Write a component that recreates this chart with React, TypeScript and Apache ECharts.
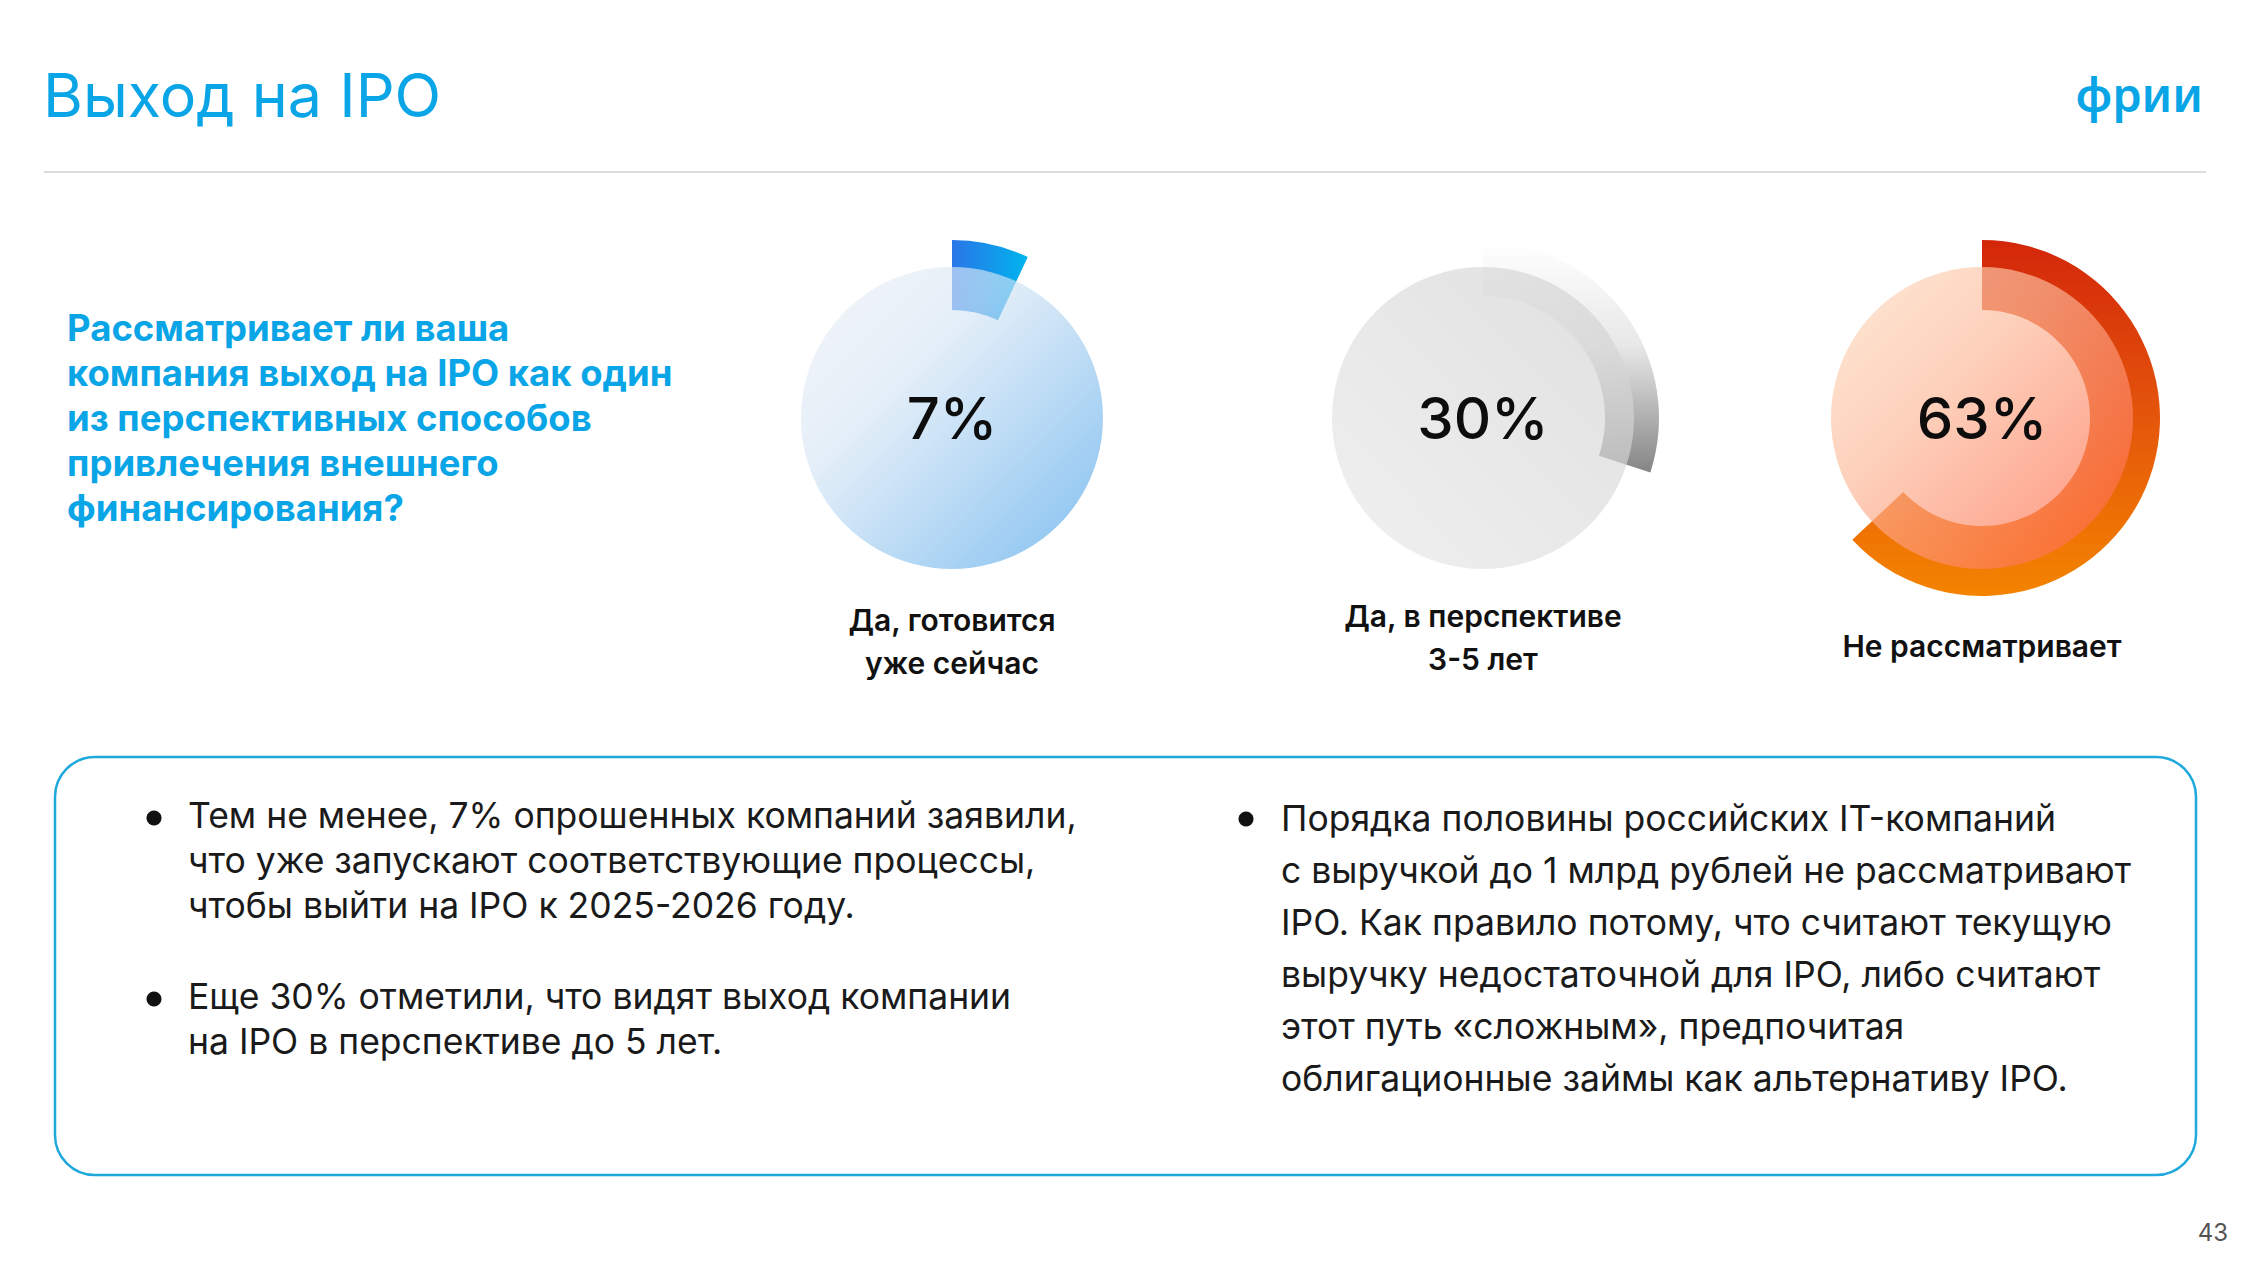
import React, { useEffect, useRef } from "react";
import * as echarts from "echarts";

// ---- data ----
const categories = ["Да, готовится\nуже сейчас", "Да, в перспективе\n3-5 лет", "Не рассматривает"];
const shares = [7, 30, 63];
const titleText = "Выход на IPO";
const logoText = "фрии";
const pageNumber = "43";
const questionLines = [
  "Рассматривает ли ваша",
  "компания выход на IPO как один",
  "из перспективных способов",
  "привлечения внешнего",
  "финансирования?",
];
const leftBullets = [
  ["Тем не менее, 7% опрошенных компаний заявили,", "что уже запускают соответствующие процессы,", "чтобы выйти на IPO к 2025-2026 году."],
  ["Еще 30% отметили, что видят выход компании", "на IPO в перспективе до 5 лет."],
];
const rightBullets = [
  [
    "Порядка половины российских IT-компаний",
    "с выручкой до 1 млрд рублей не рассматривают",
    "IPO. Как правило потому, что считают текущую",
    "выручку недостаточной для IPO, либо считают",
    "этот путь «сложным», предпочитая",
    "облигационные займы как альтернативу IPO.",
  ],
];

// ---- layout & style ----
const centersX = [952, 1483, 1982];
const centerY = 418;
const circleR = 151;
const arcInner = [108, 122, 108];
const arcOuter = [178, 176, 178];
const labelTops = [598, 594, 624];
const FONT = "Inter, 'Noto Sans', sans-serif";
const BLUE = "#0aa5e6";

const lin = (x: number, y: number, x2: number, y2: number, stops: [number, string][]) => ({
  type: "linear",
  x,
  y,
  x2,
  y2,
  colorStops: stops.map(([offset, color]) => ({ offset, color })),
});

const arcColors = [
  lin(0, 0, 1, 0, [[0, "#2a76e8"], [1, "#00b4ee"]]),
  lin(0, 0, 0, 1, [[0, "#ffffff"], [0.45, "#e8e8e8"], [1, "#858585"]]),
  lin(0, 0, 0, 1, [[0, "#d3260a"], [0.5, "#e4560b"], [1, "#f48400"]]),
];
const circleColors = [
  lin(0, 0, 1, 1, [[0, "rgba(238,241,245,0.65)"], [0.35, "rgba(214,230,245,0.65)"], [1, "rgba(63,157,232,0.65)"]]),
  lin(1, 0, 0, 1, [[0, "rgba(207,207,207,0.65)"], [1, "rgba(232,232,232,0.65)"]]),
  lin(0, 0, 1, 1, [[0, "rgba(253,224,196,0.68)"], [0.4, "rgba(252,185,154,0.68)"], [1, "rgba(255,90,56,0.68)"]]),
];

export default function App() {
  const ref = useRef<HTMLDivElement>(null);
  useEffect(() => {
    if (!ref.current) return;
    const chart = echarts.init(ref.current, undefined, { renderer: "svg" });

    const series: any[] = [];
    shares.forEach((v, i) => {
      series.push({
        type: "pie",
        z: 1,
        silent: true,
        center: [centersX[i], centerY],
        radius: [arcInner[i], arcOuter[i]],
        startAngle: 90,
        clockwise: true,
        avoidLabelOverlap: false,
        label: { show: false },
        labelLine: { show: false },
        emphasis: { disabled: true },
        data: [
          { value: v, name: categories[i], itemStyle: { color: arcColors[i] } },
          { value: 100 - v, name: "rest", itemStyle: { color: "rgba(0,0,0,0)" } },
        ],
      });
      series.push({
        type: "pie",
        z: 2,
        silent: true,
        center: [centersX[i], centerY],
        radius: [0, circleR],
        avoidLabelOverlap: false,
        emphasis: { disabled: true },
        labelLine: { show: false },
        label: {
          show: true,
          position: "center",
          formatter: "{c}%",
          fontSize: 58,
          fontWeight: 500,
          fontFamily: FONT,
          color: "#0d0d0d",
          opacity: 1,
        },
        data: [{ value: v, name: categories[i], itemStyle: { color: circleColors[i] } }],
      });
    });

    const elements: any[] = [
      {
        type: "text",
        x: 43,
        y: 95,
        style: { text: titleText, fill: BLUE, fontSize: 61, fontFamily: FONT, fontWeight: 400, textVerticalAlign: "middle" },
      },
      {
        type: "text",
        x: 2203,
        y: 94,
        style: { text: logoText, fill: BLUE, fontSize: 47, fontFamily: "'Noto Sans', sans-serif", fontWeight: 600, textAlign: "right", textVerticalAlign: "middle" },
      },
      {
        type: "line",
        shape: { x1: 44, y1: 172, x2: 2206, y2: 172 },
        style: { stroke: "#dcdcdc", lineWidth: 2 },
      },
      {
        type: "text",
        x: 67,
        y: 305,
        style: {
          text: questionLines.join("\n"),
          fill: BLUE,
          fontSize: 36.5,
          lineHeight: 45,
          fontFamily: FONT,
          fontWeight: 700,
          textVerticalAlign: "top",
        },
      },
      {
        type: "rect",
        shape: { x: 55, y: 757, width: 2141, height: 418, r: 40 },
        style: { fill: "none", stroke: "#1ea8dc", lineWidth: 2.5 },
      },
      {
        type: "text",
        x: 2228,
        y: 1232,
        style: { text: pageNumber, fill: "#555555", fontSize: 24, fontFamily: FONT, textAlign: "right", textVerticalAlign: "middle" },
      },
    ];

    categories.forEach((c, i) => {
      elements.push({
        type: "text",
        x: centersX[i],
        y: labelTops[i],
        style: {
          text: c,
          fill: "#111111",
          fontSize: 30,
          lineHeight: 43,
          fontWeight: 600,
          fontFamily: FONT,
          textAlign: "center",
          textVerticalAlign: "top",
        },
      });
    });

    const leftTops = [793, 974];
    leftBullets.forEach((lines, i) => {
      elements.push({ type: "circle", shape: { cx: 154, cy: leftTops[i] + 25, r: 7.5 }, style: { fill: "#111111" } });
      elements.push({
        type: "text",
        x: 188,
        y: leftTops[i],
        style: { text: lines.join("\n"), fill: "#1a1a1a", fontSize: 35.5, lineHeight: 45, fontFamily: FONT, textVerticalAlign: "top" },
      });
    });
    const rightTops = [792];
    rightBullets.forEach((lines, i) => {
      elements.push({ type: "circle", shape: { cx: 1246, cy: rightTops[i] + 27, r: 7.5 }, style: { fill: "#111111" } });
      elements.push({
        type: "text",
        x: 1281,
        y: rightTops[i],
        style: { text: lines.join("\n"), fill: "#1a1a1a", fontSize: 35.5, lineHeight: 52, fontFamily: FONT, textVerticalAlign: "top" },
      });
    });

    chart.setOption({
      animation: false,
      backgroundColor: "#ffffff",
      series,
      graphic: { elements },
    });
    return () => chart.dispose();
  }, []);

  return <div ref={ref} style={{ position: "fixed", left: 0, top: 0, width: 2250, height: 1266 }} />;
}
